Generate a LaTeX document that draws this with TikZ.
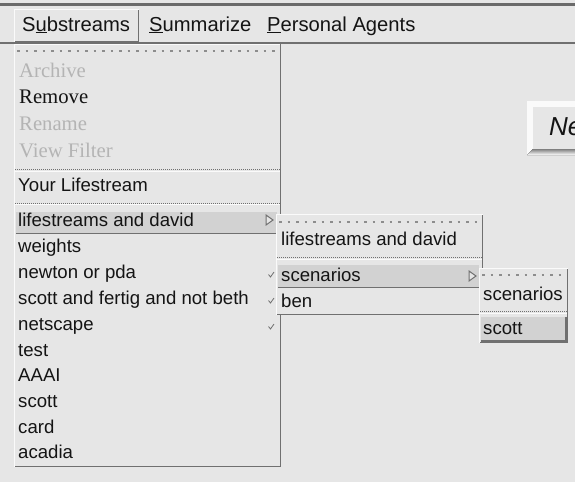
\documentclass[tikz,border=0pt]{standalone}
\usepackage{fontspec}
\newfontfamily\uisans{Liberation Sans}
\newfontfamily\uiserif{Liberation Serif}
\definecolor{bg}{HTML}{E6E6E6}
\definecolor{band}{HTML}{6A6A6A}
\definecolor{shade}{HTML}{707070}
\definecolor{lite}{HTML}{FAFAFA}
\definecolor{hl}{HTML}{D2D2D2}
\definecolor{txt}{HTML}{141414}
\definecolor{dim}{HTML}{B4B4B4}
\tikzset{
  baritem/.style={anchor=base west, inner sep=0pt, text=txt, font=\uisans\fontsize{20.2}{22}\selectfont},
  item/.style={anchor=base west, inner sep=0pt, text=txt, font=\uisans\fontsize{18.6}{20}\selectfont},
  sitem/.style={anchor=base west, inner sep=0pt, text=txt, font=\uiserif\fontsize{20.7}{22}\selectfont},
  gitem/.style={sitem, text=dim},
  darkedge/.style={draw=shade, line width=1.6pt},
  liteedge/.style={draw=lite, line width=1.2pt},
  tear/.style={draw=shade!80, line width=1.3pt, dash pattern=on 2.5pt off 6pt},
  sepline/.style={draw=shade, line width=1pt, dash pattern=on 1pt off 1pt},
  seplite/.style={draw=lite, line width=0.8pt},
  hlrow/.style={fill=hl},
  check/.style={draw=shade, line width=0.8pt},
  cascade/.style={draw=shade, line width=1pt, fill=bg}
}
\begin{document}
\begin{tikzpicture}[x=1pt,y=-1pt]
\useasboundingbox (0,0) rectangle (575,482);
\fill[bg] (0,0) rectangle (575,482);
% top band and menubar
\fill[band] (0,2.5) rectangle (575,5.5);
\draw[darkedge] (0,43) -- (575,43);

% "Ne" button (partly visible)
\begin{scope}
\clip (0,0) rectangle (575,482);
\fill[lite] (527,101) rectangle (580,155);
\fill[shade] (527,155) -- (533,149) -- (580,149) -- (580,155) -- cycle;
\fill[bg] (533,107) rectangle (580,149);
\node[anchor=base west, inner sep=0pt, text=txt, font=\uisans\itshape\fontsize{26}{28}\selectfont] (ne) at (549,135) {Ne};
\end{scope}

% Substreams button (raised)
\fill[bg] (14,9) rectangle (139,42);
\draw[liteedge] (14.5,42) -- (14.5,9.5) -- (139,9.5);
\draw[darkedge] (15,41.5) -- (138.5,41.5) -- (138.5,10);
\node[baritem] (bsub) at (22,31) {S\underline{u}bstreams};
\node[baritem] (bsum) at (149,31) {\underline{S}ummarize};
\node[baritem] (bper) at (267,31) {\underline{P}ersonal Agents};

% main menu
\fill[bg] (14,44) rectangle (281,467);
\draw[liteedge] (14.5,467) -- (14.5,44.5) -- (281,44.5);
\draw[darkedge] (15,466.3) -- (280.3,466.3) -- (280.3,44);
\draw[tear] (17,51) -- (278,51);
\node[gitem] (marc) at (19,77) {Archive};
\node[sitem] (mrem) at (19,103.5) {Remove};
\node[gitem] (mren) at (19,130.5) {Rename};
\node[gitem] (mvf) at (19,157) {View Filter};
\draw[sepline] (15,169.5) -- (280,169.5);
\draw[seplite] (15,171) -- (280,171);
\node[item] (myl) at (18,191) {Your Lifestream};
\draw[sepline] (15,203) -- (280,203);
\draw[seplite] (15,204.5) -- (280,204.5);
\fill[hlrow] (16,212) rectangle (277,233);
\draw[draw=shade, line width=1pt] (16,233) -- (277,233);
\node[item] (m1) at (18,226) {lifestreams and david};
\node[item] (m2) at (18,252) {weights};
\node[item] (m3) at (18,278) {newton or pda};
\node[item] (m4) at (18,304) {scott and fertig and not beth};
\node[item] (m5) at (18,330) {netscape};
\node[item] (m6) at (18,356) {test};
\node[item] (m7) at (18,381.5) {AAAI};
\node[item] (m8) at (18,407.5) {scott};
\node[item] (m9) at (18,433) {card};
\node[item] (m10) at (18,458) {acadia};
\draw[cascade] (266,215) -- (273,220) -- (266,225) -- cycle;
\draw[check] (268.5,274.5) -- (270.5,277) -- (274,272);
\draw[check] (268.5,300.5) -- (270.5,303) -- (274,298);
\draw[check] (268.5,326.5) -- (270.5,329) -- (274,324);

% submenu 1
\fill[bg] (276,214) rectangle (483,315);
\draw[liteedge] (276.5,315) -- (276.5,214.5) -- (483,214.5);
\draw[darkedge] (277,314.3) -- (482.3,314.3) -- (482.3,215);
\draw[tear] (279,222) -- (480,222);
\node[item] (s1t) at (281,245) {lifestreams and david};
\draw[sepline] (277,257.5) -- (482,257.5);
\draw[seplite] (277,259) -- (482,259);
\fill[hlrow] (278,265) rectangle (479,287);
\draw[draw=shade, line width=1pt] (278,287) -- (479,287);
\node[item] (s1a) at (281,281) {scenarios};
\node[item] (s1b) at (281,307) {ben};
\draw[cascade] (469,271) -- (476,276) -- (469,281) -- cycle;

% submenu 2
\fill[bg] (479,268) rectangle (568,343);
\draw[liteedge] (479.5,343) -- (479.5,268.5) -- (568,268.5);
\draw[darkedge] (480,342.3) -- (567.3,342.3) -- (567.3,269);
\draw[tear] (482,275) -- (565,275);
\node[item] (s2t) at (483,300) {scenarios};
\draw[sepline] (480,311.5) -- (567,311.5);
\draw[seplite] (480,313) -- (567,313);
\fill[hlrow] (481,317) rectangle (566,341);
\draw[draw=shade, line width=2pt] (481,341) -- (566,341) -- (566,317);
\node[item] (s2a) at (483,334) {scott};
\end{tikzpicture}
\end{document}
